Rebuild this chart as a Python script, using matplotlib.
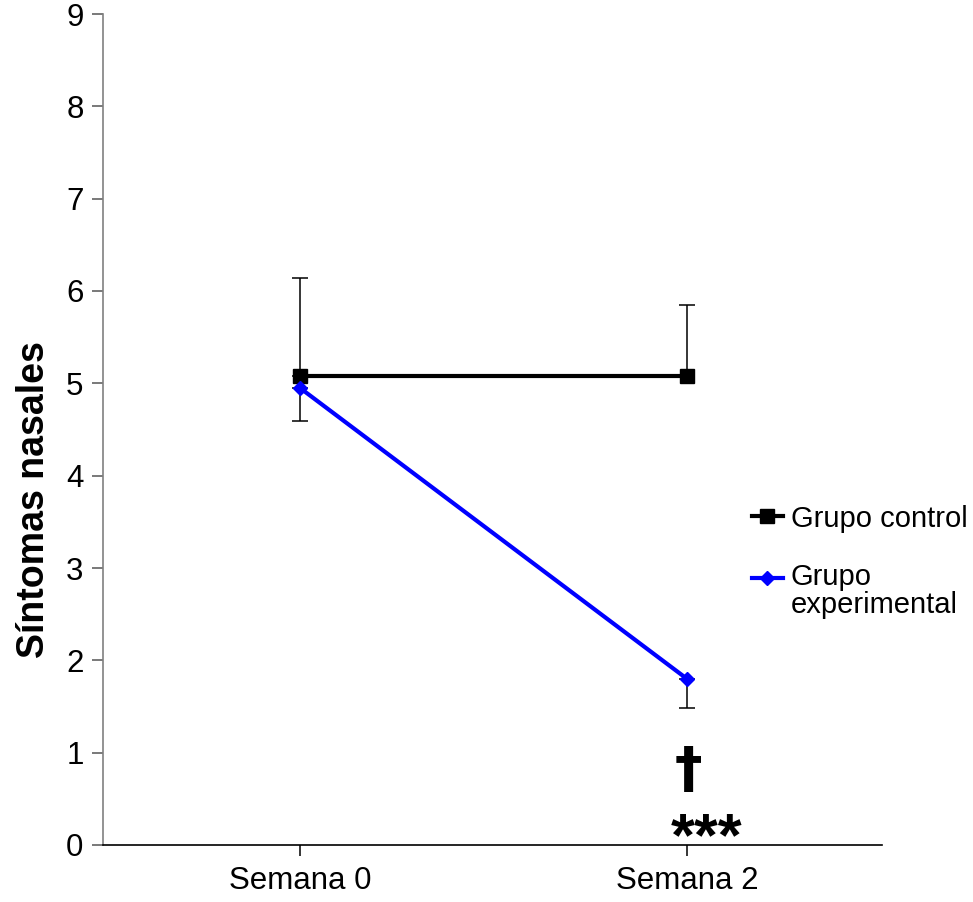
import matplotlib
matplotlib.use("Agg")
import matplotlib.pyplot as plt
from matplotlib import font_manager
from matplotlib.legend_handler import HandlerLine2D

# ---- data ----
weeks = ["Semana 0", "Semana 2"]
control_mean = [5.08, 5.08]
control_sd = [1.06, 0.77]
experimental_mean = [4.95, 1.80]
experimental_sd = [0.36, 0.32]
series_labels = ["Grupo control", "Grupo\nexperimental"]
y_ticks = list(range(0, 10))
y_label = "Síntomas nasales"
dagger_mark = "†"
signif_mark = "***"

installed = {f.name for f in font_manager.fontManager.ttflist}
base_font = "Liberation Sans" if "Liberation Sans" in installed else "DejaVu Sans"
plt.rcParams["font.family"] = [base_font, "DejaVu Sans"]

W, H = 973, 902
fig = plt.figure(figsize=(W / 100, H / 100), dpi=100)
left_px, right_px, top_px, bottom_px = 103, 882, 14, 845
ax = fig.add_axes([left_px / W, 1 - bottom_px / H,
                   (right_px - left_px) / W, (bottom_px - top_px) / H])

x = list(range(len(weeks)))

# one-sided error bars: control upward, experimental downward
ax.errorbar(x, control_mean, yerr=[[0] * len(x), control_sd], fmt="none",
            ecolor="black", elinewidth=1.1, capsize=5.5, capthick=1.1, zorder=2)
ax.errorbar(x, experimental_mean, yerr=[experimental_sd, [0] * len(x)], fmt="none",
            ecolor="black", elinewidth=1.1, capsize=5.5, capthick=1.1, zorder=2)

h_ctrl, = ax.plot(x, control_mean, color="black", lw=3.0, marker="s",
                  markersize=10, zorder=3, label=series_labels[0])
h_exp, = ax.plot(x, experimental_mean, color="#0000FF", lw=3.0, marker="D",
                 markersize=7.5, zorder=4, label=series_labels[1])

ax.set_xlim(-0.509, 1.504)
ax.set_ylim(0, 9)
ax.set_yticks(y_ticks)
ax.set_xticks(x)
ax.set_xticklabels(weeks)

for s in ["top", "right"]:
    ax.spines[s].set_visible(False)
ax.spines["left"].set_color("#808080")
ax.spines["left"].set_linewidth(1.2)
ax.spines["bottom"].set_color("black")
ax.spines["bottom"].set_linewidth(1.2)

ax.tick_params(axis="y", direction="out", length=8, width=1.1, color="#555555",
               labelsize=22.5, pad=6)
ax.tick_params(axis="x", direction="out", length=8, width=1.1, color="black",
               labelsize=22.5, pad=7)

ax.set_ylabel(y_label, fontsize=27, fontweight="bold")
ax.yaxis.set_label_coords(-0.066, 0.416)

# significance annotations at week 2
ax.text(x[1] + 0.005, 0.80, dagger_mark, ha="center", va="center", fontsize=40,
        fontweight="bold", family=["DejaVu Sans"])
ax.text(x[1] + 0.05, -0.105, signif_mark, ha="center", va="baseline", fontsize=44,
        fontweight="bold", clip_on=False)


class RaisedLineHandler(HandlerLine2D):
    """Line handle lifted so it sits beside the first row of a two-line label."""

    def __init__(self, raise_frac=0.0, **kw):
        super().__init__(**kw)
        self.raise_frac = raise_frac

    def create_artists(self, legend, orig_handle, xdescent, ydescent, width,
                       height, fontsize, trans):
        return super().create_artists(legend, orig_handle, xdescent,
                                      ydescent - 2 * self.raise_frac * fontsize,
                                      width, height, fontsize, trans)


leg = ax.legend(handles=[h_ctrl, h_exp], loc="center left",
                bbox_to_anchor=(752 / W, 1 - 562 / H), bbox_transform=fig.transFigure,
                frameon=False, fontsize=21, borderpad=0, borderaxespad=0,
                handlelength=1.05, handletextpad=0.28, labelspacing=1.05,
                handler_map={h_exp: RaisedLineHandler(raise_frac=0.5)})
for t in leg.get_texts():
    t.set_linespacing(1.0)

fig.savefig("out.png", dpi=100)
